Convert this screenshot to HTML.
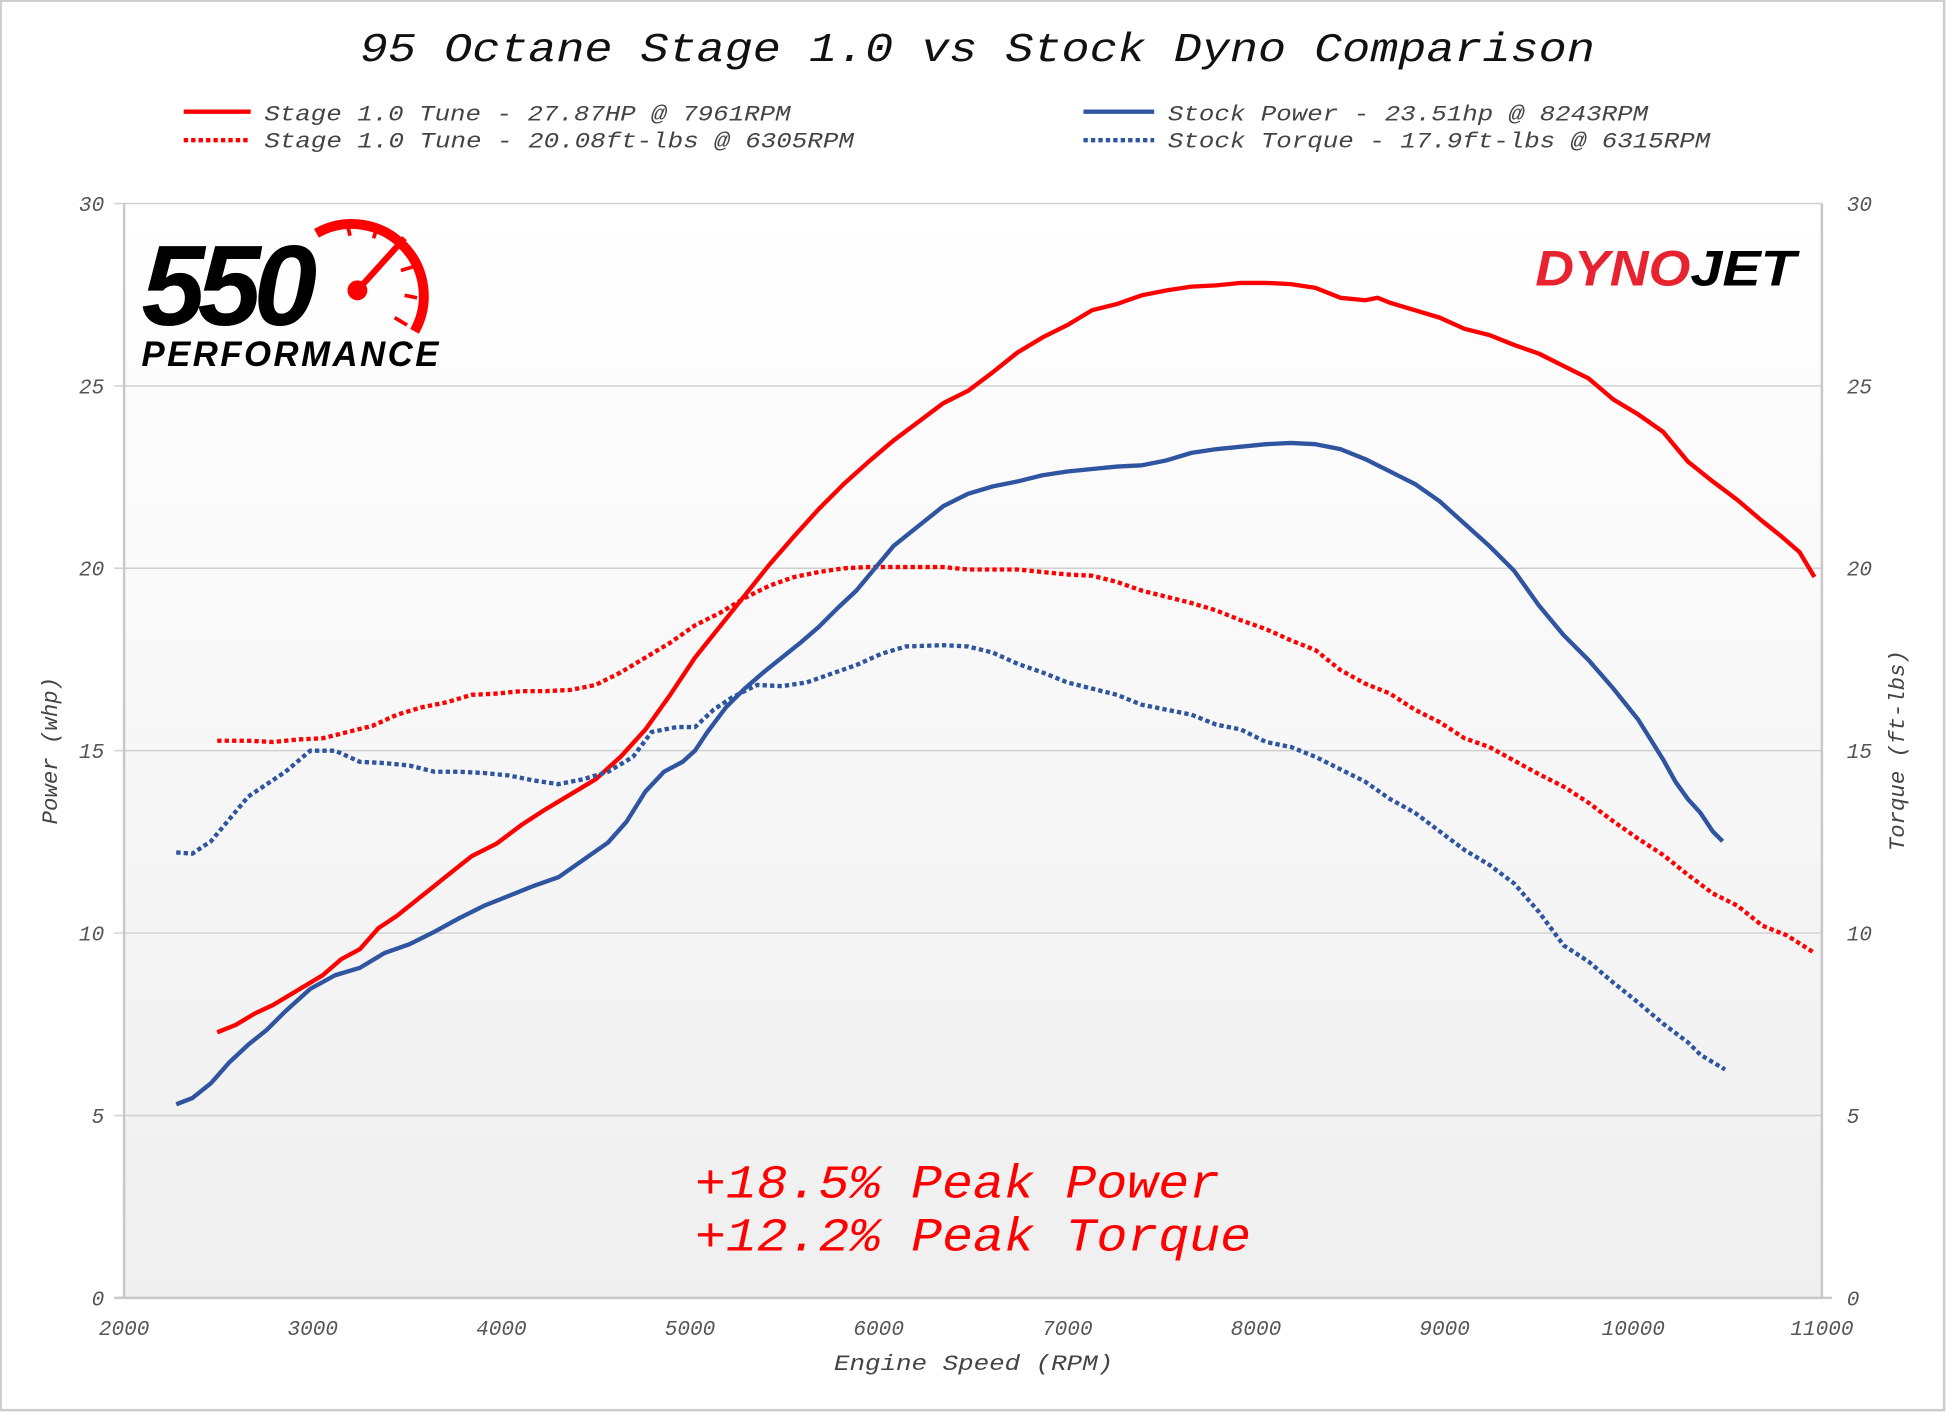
<!DOCTYPE html>
<html><head><meta charset="utf-8"><style>
html,body{margin:0;padding:0;background:#fff;}
svg{display:block;}
text{font-family:"Liberation Mono",monospace;font-style:italic;}
</style></head><body>
<svg width="1946" height="1412" viewBox="0 0 1568 1138" preserveAspectRatio="none" xmlns="http://www.w3.org/2000/svg">
<defs>
<linearGradient id="bg" x1="0" y1="0" x2="0" y2="1">
<stop offset="0" stop-color="#ffffff"/><stop offset="1" stop-color="#efefef"/>
</linearGradient>
</defs>
<rect x="0.5" y="0.5" width="1566" height="1136" fill="#fff" stroke="#ccc" stroke-width="2"/>
<rect x="100" y="164" width="1368" height="882" fill="url(#bg)"/>
<g stroke="#d0d0d0" stroke-width="1.2">
<line x1="92" y1="164" x2="1468" y2="164"/>
<line x1="92" y1="311" x2="1468" y2="311"/>
<line x1="92" y1="458" x2="1468" y2="458"/>
<line x1="92" y1="605" x2="1468" y2="605"/>
<line x1="92" y1="752" x2="1468" y2="752"/>
<line x1="92" y1="899" x2="1468" y2="899"/>
</g>
<g stroke="#c8c8c8" stroke-width="2">
<line x1="100" y1="164" x2="100" y2="1046"/>
<line x1="1468" y1="164" x2="1468" y2="1046"/>
<line x1="92" y1="1046" x2="1476" y2="1046"/>
</g>
<text x="290" y="49" font-size="33" fill="#111" textLength="995" lengthAdjust="spacingAndGlyphs">95 Octane Stage 1.0 vs Stock Dyno Comparison</text>
<g font-size="18" fill="#444">
<line x1="148" y1="90" x2="202" y2="90" stroke="#f00" stroke-width="3.5"/>
<text x="213" y="97" textLength="424" lengthAdjust="spacingAndGlyphs">Stage 1.0 Tune - 27.87HP @ 7961RPM</text>
<line x1="148" y1="113" x2="202" y2="113" stroke="#f00" stroke-width="3.5" stroke-dasharray="3.5 2.5"/>
<text x="213" y="119" textLength="475" lengthAdjust="spacingAndGlyphs">Stage 1.0 Tune - 20.08ft-lbs @ 6305RPM</text>
<line x1="873" y1="90" x2="930" y2="90" stroke="#2f55a0" stroke-width="3.5"/>
<text x="941" y="97" textLength="387" lengthAdjust="spacingAndGlyphs">Stock Power - 23.51hp @ 8243RPM</text>
<line x1="873" y1="113" x2="930" y2="113" stroke="#2f55a0" stroke-width="3.5" stroke-dasharray="3.5 2.5"/>
<text x="941" y="119" textLength="437" lengthAdjust="spacingAndGlyphs">Stock Torque - 17.9ft-lbs @ 6315RPM</text>
</g>
<g font-size="17" fill="#555" text-anchor="end">
<text x="84" y="170">30</text><text x="84" y="317">25</text><text x="84" y="464">20</text>
<text x="84" y="611">15</text><text x="84" y="758">10</text><text x="84" y="905">5</text><text x="84" y="1052">0</text>
</g>
<g font-size="17" fill="#555" text-anchor="start">
<text x="1488" y="170">30</text><text x="1488" y="317">25</text><text x="1488" y="464">20</text>
<text x="1488" y="611">15</text><text x="1488" y="758">10</text><text x="1488" y="905">5</text><text x="1488" y="1052">0</text>
</g>
<g font-size="17" fill="#555" text-anchor="middle">
<text x="100" y="1076">2000</text><text x="252" y="1076">3000</text><text x="404" y="1076">4000</text>
<text x="556" y="1076">5000</text><text x="708" y="1076">6000</text><text x="860" y="1076">7000</text>
<text x="1012" y="1076">8000</text><text x="1164" y="1076">9000</text><text x="1316" y="1076">10000</text>
<text x="1468" y="1076">11000</text>
</g>
<text x="672" y="1104" font-size="18" fill="#444" textLength="225" lengthAdjust="spacingAndGlyphs">Engine Speed (RPM)</text>
<text transform="translate(46,605) rotate(-90)" text-anchor="middle" font-size="18" fill="#444">Power (whp)</text>
<text transform="translate(1534,605) rotate(-90)" text-anchor="middle" font-size="18" fill="#444">Torque (ft-lbs)</text>
<!-- 550 logo -->
<text x="114" y="262" font-weight="bold" font-style="italic" font-size="92" fill="#000" letter-spacing="-6" style="font-family:'Liberation Sans',sans-serif">550</text>
<text x="114" y="295" font-weight="bold" font-size="28" fill="#000" style="font-family:'Liberation Sans',sans-serif;letter-spacing:2px">PERFORMANCE</text>
<path d="M255,188 A58,58 0 0 1 334,267" fill="none" stroke="#f00" stroke-width="8"/>
<line x1="288" y1="234" x2="326" y2="192" stroke="#f00" stroke-width="5"/>
<circle cx="288" cy="234" r="8" fill="#f00"/>
<g stroke="#f00" stroke-width="3"><line x1="280" y1="181" x2="282" y2="190"/><line x1="304" y1="183" x2="301" y2="192"/><line x1="333" y1="215" x2="323" y2="218"/><line x1="336" y1="240" x2="326" y2="238"/><line x1="328" y1="262" x2="318" y2="256"/></g>
<!-- Dynojet -->
<text x="1237" y="230" font-weight="bold" font-style="italic" font-size="40" fill="#e8222e" style="font-family:'Liberation Sans',sans-serif" textLength="125" lengthAdjust="spacingAndGlyphs">DYNO</text>
<text x="1362" y="230" font-weight="bold" font-style="italic" font-size="40" fill="#000" style="font-family:'Liberation Sans',sans-serif" textLength="85" lengthAdjust="spacingAndGlyphs">JET</text>
<!-- curves -->
<g fill="none" stroke-width="3.5" stroke-linejoin="round">
<polyline stroke="#f00" points="175,832 190,826 205,817 220,810 240,798 260,786 275,773 290,765 305,748 320,738 340,722 360,706 380,690 400,680 420,665 440,652 460,640 480,628 500,610 520,588 540,560 560,530 580,505 600,480 620,455 640,432 660,410 680,390 700,372 720,355 740,340 760,325 780,315 800,300 820,284 840,272 860,262 880,250 900,245 920,238 940,234 960,231 980,230 1000,228 1020,228 1040,229 1060,232 1080,240 1100,242 1110,240 1120,244 1140,250 1160,256 1180,265 1200,270 1220,278 1240,285 1260,295 1280,305 1300,322 1320,334 1340,348 1350,360 1360,372 1380,388 1400,403 1420,420 1435,432 1450,445 1462,465"/>
<polyline stroke="#f00" stroke-dasharray="3.5 2.5" points="175,597 200,597 220,598 240,596 260,595 280,590 300,585 320,576 340,570 360,566 380,560 400,559 420,557 440,557 460,556 480,552 500,542 520,530 540,518 560,504 580,494 600,482 620,472 640,465 660,461 680,458 700,457 740,457 760,457 780,459 800,459 820,459 840,461 860,463 880,464 900,469 920,476 940,481 960,486 980,492 1000,500 1020,507 1040,516 1060,524 1080,540 1100,551 1120,559 1140,572 1160,582 1180,595 1200,602 1220,613 1240,624 1260,634 1280,647 1300,662 1320,676 1340,689 1360,705 1380,720 1400,730 1420,746 1440,754 1462,768"/>
<polyline stroke="#2f55a0" points="142,890 155,885 170,873 185,856 200,842 215,830 230,815 250,797 270,786 290,780 310,768 330,761 350,751 370,740 390,730 410,722 430,714 450,707 470,693 490,679 505,662 520,638 535,622 550,614 560,605 570,590 585,570 600,555 615,542 630,530 645,518 660,505 675,490 690,476 705,458 720,440 740,424 760,408 780,398 800,392 820,388 840,383 860,380 880,378 900,376 920,375 940,371 960,365 980,362 1000,360 1020,358 1040,357 1060,358 1080,362 1100,370 1120,380 1140,390 1160,404 1180,422 1200,440 1220,460 1240,488 1260,512 1280,532 1300,555 1320,580 1340,612 1350,630 1360,644 1370,655 1380,670 1388,678"/>
<polyline stroke="#2f55a0" stroke-dasharray="3.5 2.5" points="142,687 155,688 170,678 185,660 200,642 215,632 230,622 250,605 270,605 290,614 310,615 330,617 350,622 370,622 390,623 410,625 430,629 450,632 470,628 490,622 510,610 525,590 545,586 560,586 575,572 590,562 610,552 630,553 650,550 670,543 690,536 710,527 730,521 760,520 780,521 800,526 820,535 840,542 860,550 880,555 900,560 920,568 940,572 960,576 980,584 1000,588 1020,598 1040,602 1060,610 1080,620 1100,630 1120,644 1140,655 1160,670 1180,685 1200,697 1220,712 1240,735 1260,762 1280,775 1300,792 1320,808 1340,825 1360,840 1370,850 1390,862"/>
</g>
<text x="560" y="965" font-size="38" fill="#f00" textLength="423" lengthAdjust="spacingAndGlyphs">+18.5% Peak Power</text>
<text x="560" y="1008" font-size="38" fill="#f00" textLength="448" lengthAdjust="spacingAndGlyphs">+12.2% Peak Torque</text>
</svg>
</body></html>
